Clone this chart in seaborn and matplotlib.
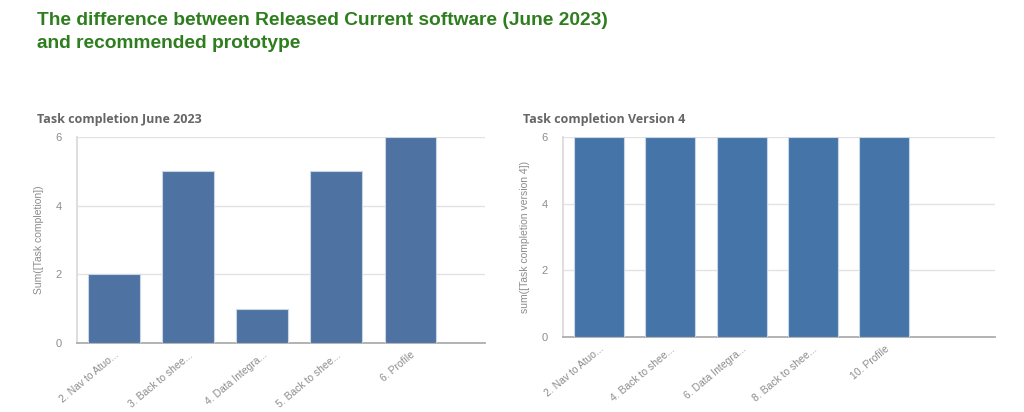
import pandas as pd
import seaborn as sns
from matplotlib import pyplot as plt

# data
tasks_june = ['2. Nav to Atuo...', '3. Back to shee...', '4. Data Integra...',
              '5. Back to shee...', '6. Profile']
done_june = [2, 5, 1, 5, 6]

tasks_v4 = ['2. Nav to Atuo...', '4. Back to shee...', '6. Data Integra...',
            '8. Back to shee...', '10. Profile']
done_v4 = [6, 6, 6, 6, 6]

sns.set_theme(style='white')
plt.rcParams['font.family'] = ['Liberation Sans', 'DejaVu Sans']

june = pd.DataFrame({'task': tasks_june, 'done': done_june})
v4 = pd.DataFrame({'task': tasks_v4, 'done': done_v4})

fig = plt.figure(figsize=(10.24, 4.12), dpi=100)
fig.text(0.036, 0.97, 'The difference between Released Current software (June 2023)\nand recommended prototype',
         color='#2e7d1e', fontsize=13.8, fontweight='bold', va='top', ha='left', linespacing=1.4)

ax1 = fig.add_axes([0.0752, 0.1675, 0.398, 0.5])
ax2 = fig.add_axes([0.5498, 0.182, 0.4219, 0.485])

panels = [
    (ax1, june, '#4e72a2', 'Task completion June 2023', 'Sum([Task completion])', 5.0, 0.036),
    (ax2, v4, '#4575a8', 'Task completion Version 4', 'sum([Task completion version 4])', 5.55, 0.511),
]

for ax, df, col, sub, ylab, xmax, tx in panels:
    sns.barplot(data=df, x='task', y='done', color=col, width=0.7, saturation=1,
                edgecolor='#c9d6e6', linewidth=0.8, ax=ax, zorder=3)
    ax.set_xlim(-0.5, xmax)
    ax.set_ylim(0, 6)
    ax.set_yticks([0, 2, 4, 6])
    ax.set_yticklabels(['0', '2', '4', '6'])
    ax.grid(axis='y', color='#e3e3e3', linewidth=1, zorder=0)
    ax.set_axisbelow(True)
    for s in ['top', 'right']:
        ax.spines[s].set_visible(False)
    ax.spines['left'].set_color('#d9d9d9')
    ax.spines['bottom'].set_color('#aaaaaa')
    ax.tick_params(axis='y', length=5, color='#d9d9d9', labelsize=8, labelcolor='#8c8c8c', pad=6)
    ax.tick_params(axis='x', length=0, labelsize=7.5, labelcolor='#8c8c8c', pad=5)
    plt.setp(ax.get_xticklabels(), rotation=40, ha='right', rotation_mode='anchor')
    ax.set_xlabel('')
    ax.set_ylabel(ylab, fontsize=7.5, color='#8c8c8c', labelpad=8)
    fig.text(tx, 0.71, sub, fontsize=9, fontweight='bold', color='#666666',
             family=['Open Sans', 'DejaVu Sans'], va='center', ha='left')

fig.savefig('out.png', dpi=100)
